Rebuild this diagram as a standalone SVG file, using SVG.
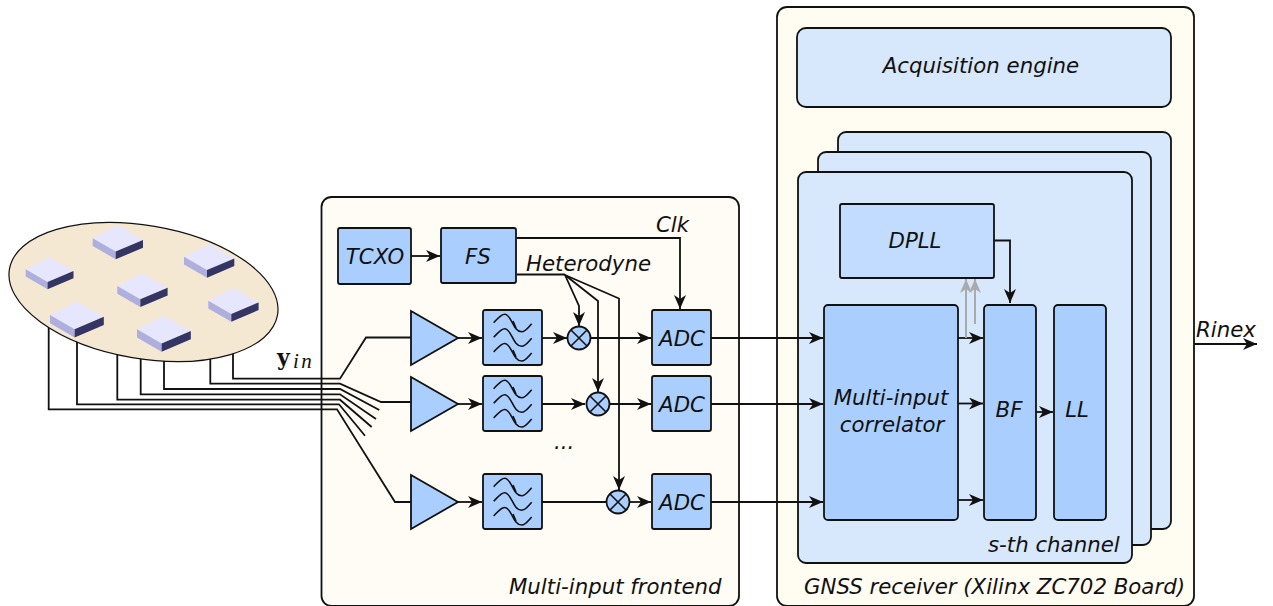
<svg xmlns="http://www.w3.org/2000/svg" width="1273" height="606" viewBox="0 0 1273 606">
<style>
text{font-family:"DejaVu Sans",sans-serif;font-style:oblique;font-size:21.3px;fill:#111}
.m{text-anchor:middle}
.b{stroke:#111;stroke-width:1.800}
.f{fill:#aacfff}
.w{fill:none;stroke:#111;stroke-width:1.800;stroke-linejoin:miter}
.a{marker-end:url(#ar)}
.g{fill:none;stroke:#aaa;stroke-width:2;marker-end:url(#ag)}
.s{fill:none;stroke:#111;stroke-width:1.600}
</style>
<defs>
<marker id="ar" viewBox="0 0 15 12" refX="14" refY="6" markerWidth="15" markerHeight="12" markerUnits="userSpaceOnUse" orient="auto"><path d="M0 0L14 6L0 12L4 6Z" fill="#111"/></marker>
<marker id="ag" viewBox="0 0 15 12" refX="14" refY="6" markerWidth="15" markerHeight="12" markerUnits="userSpaceOnUse" orient="auto"><path d="M0 0L14 6L0 12L4 6Z" fill="#aaa"/></marker>
<g id="chip">
<path d="M0 0L25 -12.7L50.3 1.7L23 13.3Z" fill="#e6e6ff"/>
<path d="M0 0L23 13.3V21L0 7.7Z" fill="#afafde"/>
<path d="M23 13.3L50.3 1.7V9.4L23 21Z" fill="#353564"/>
</g>
<g id="wave">
<path class="s" d="M0 0C4 -4 7 -8.500 11 -8.500C18 -8.500 19 9 28 9C32 9 35 4 38 1"/>
</g>
<g id="filter">
<rect class="b f" x="0" y="0" width="59" height="55" rx="2"/>
<use href="#wave" x="10.7" y="12.7"/>
<use href="#wave" x="10.7" y="27.3"/>
<use href="#wave" x="10.7" y="42"/>
<path class="s" d="M30 11L33 18M30 40L33 47"/>
</g>
<g id="mix">
<circle class="b f" r="11.5"/>
<path class="s" d="M-8 -8L8 8M-8 8L8 -8"/>
</g>
</defs>

<g id="frontend"><rect x="321.5" y="197" width="417.5" height="409" rx="10" fill="#fffcf5" stroke="#111" stroke-width="1.800"/><text x="509" y="594">Multi-input frontend</text></g>
<g id="receiver"><rect x="777" y="7" width="417" height="599" rx="10" fill="#fffcf2" stroke="#111" stroke-width="1.800"/><text x="804" y="594">GNSS receiver (Xilinx ZC702 Board)</text></g>
<g id="acquisition"><rect class="b" x="797" y="28" width="374" height="79" rx="9" fill="#d7e7fc"/><text class="m" x="981" y="73">Acquisition engine</text></g>
<g id="channel3"><rect class="b" x="838" y="132" width="333" height="397" rx="8" fill="#d7e7fc"/></g>
<g id="channel2"><rect class="b" x="818" y="152" width="333" height="393" rx="8" fill="#d7e7fc"/></g>
<g id="channel1"><rect class="b" x="798" y="172" width="334" height="391" rx="8" fill="#d7e7fc"/><text x="988" y="552">s-th channel</text></g>

<g id="connectors">
<path class="w" d="M233 350V378.7H340L366 337.5H411"/>
<path class="w" d="M210.300 350V383.700H340L381 402H411"/>
<path class="w" d="M164 350V389H340L379.300 410"/>
<path class="w" d="M140.700 350V394.300H340L376 419"/>
<path class="w" d="M117.300 340V399.700H340L371.700 427"/>
<path class="w" d="M77 340V404.300H339L365 435.700"/>
<path class="w" d="M48.700 320V409.300H337L395 502H411"/>
<path class="w a" d="M411 256H440"/>
<path class="w a" d="M517 238H680V309"/>
<path class="w" d="M517 274.500H565"/>
<path class="w a" d="M565 275L579 306V326"/>
<path class="w a" d="M565 275L598 301V392"/>
<path class="w a" d="M565 275L619 298.500V490"/>
<path class="w a" d="M458 338H482"/>
<path class="w a" d="M458 404H482"/>
<path class="w a" d="M458 502H482"/>
<path class="w a" d="M542 338H567"/>
<path class="w a" d="M542 404H585"/>
<path class="w" d="M542 502H606"/>
<path class="w a" d="M591 338H651"/>
<path class="w a" d="M610 404H651"/>
<path class="w a" d="M630 502H651"/>
<path class="w a" d="M711 338H823"/>
<path class="w a" d="M711 404H823"/>
<path class="w a" d="M711 502H823"/>
<path class="w a" d="M958 338H983"/>
<path class="w a" d="M958 403.500H983"/>
<path class="w a" d="M958 500H983"/>
<path class="w a" d="M1036 412H1053"/>
<path class="w a" d="M994 240.500H1010V303"/>
<path class="g" d="M966 338V279"/>
<path class="g" d="M975 324V279"/>
<path class="w a" d="M1194 344H1257"/>
</g>

<g id="array">
<ellipse cx="143.500" cy="292" rx="136" ry="66.500" transform="rotate(9.7 143.500 292)" fill="#f5e8d3" stroke="#111" stroke-width="1.200"/>
<use href="#chip" transform="translate(92.700 238.300)"/>
<use href="#chip" transform="translate(184 256.700)"/>
<use href="#chip" transform="translate(25.700 269.300) scale(.95)"/>
<use href="#chip" transform="translate(117.300 286)"/>
<use href="#chip" transform="translate(208.300 300.700)"/>
<use href="#chip" transform="translate(50 315) scale(1.070)"/>
<use href="#chip" transform="translate(137 329.300) scale(1.070)"/>
</g>
<text x="277" y="365" style="font-family:'DejaVu Serif',serif;font-style:normal;font-weight:bold;font-size:22px">y</text>
<text x="293" y="368" style="font-family:'Liberation Serif',serif;font-style:italic;font-size:21px;letter-spacing:2.500px">in</text>

<g id="tcxo"><rect class="b f" x="338" y="228" width="73" height="56" rx="2"/><text class="m" x="375" y="264">TCXO</text></g>
<g id="fs"><rect class="b f" x="441" y="228" width="75" height="55" rx="2"/><text class="m" x="478" y="264">FS</text></g>
<text x="656" y="232">Clk</text>
<text x="526" y="271">Heterodyne</text>
<g id="amp1"><path class="b f" d="M411 311L458 338L411 365Z"/></g>
<g id="amp2"><path class="b f" d="M411 377L458 404L411 431Z"/></g>
<g id="amp3"><path class="b f" d="M411 475L458 502L411 529Z"/></g>
<g id="filter1"><use href="#filter" x="483" y="310"/></g>
<g id="filter2"><use href="#filter" x="483" y="376"/></g>
<g id="filter3"><use href="#filter" x="483" y="474"/></g>
<g id="mixer1"><use href="#mix" x="579" y="338"/></g>
<g id="mixer2"><use href="#mix" x="598" y="404"/></g>
<g id="mixer3"><use href="#mix" x="618" y="502"/></g>
<g id="adc1"><rect class="b f" x="652" y="310" width="59" height="55" rx="2"/><text class="m" x="682" y="346">ADC</text></g>
<g id="adc2"><rect class="b f" x="652" y="376" width="59" height="55" rx="2"/><text class="m" x="682" y="412">ADC</text></g>
<g id="adc3"><rect class="b f" x="652" y="474" width="59" height="55" rx="2"/><text class="m" x="682" y="510">ADC</text></g>
<text x="554" y="449">...</text>
<g id="dpll"><rect class="b" x="840" y="204" width="154" height="74" rx="2" fill="#c2dcff"/><text class="m" x="915" y="248">DPLL</text></g>
<g id="correlator"><rect class="b f" x="824" y="305" width="134" height="215" rx="4"/><text class="m" x="891" y="405">Multi-input</text><text class="m" x="892" y="432">correlator</text></g>
<g id="bf"><rect class="b f" x="984" y="305" width="52" height="215" rx="4"/><text class="m" x="1009" y="417">BF</text></g>
<g id="ll"><rect class="b f" x="1054" y="305" width="52" height="215" rx="4"/><text class="m" x="1077" y="417">LL</text></g>
<text x="1196" y="337">Rinex</text>
</svg>
